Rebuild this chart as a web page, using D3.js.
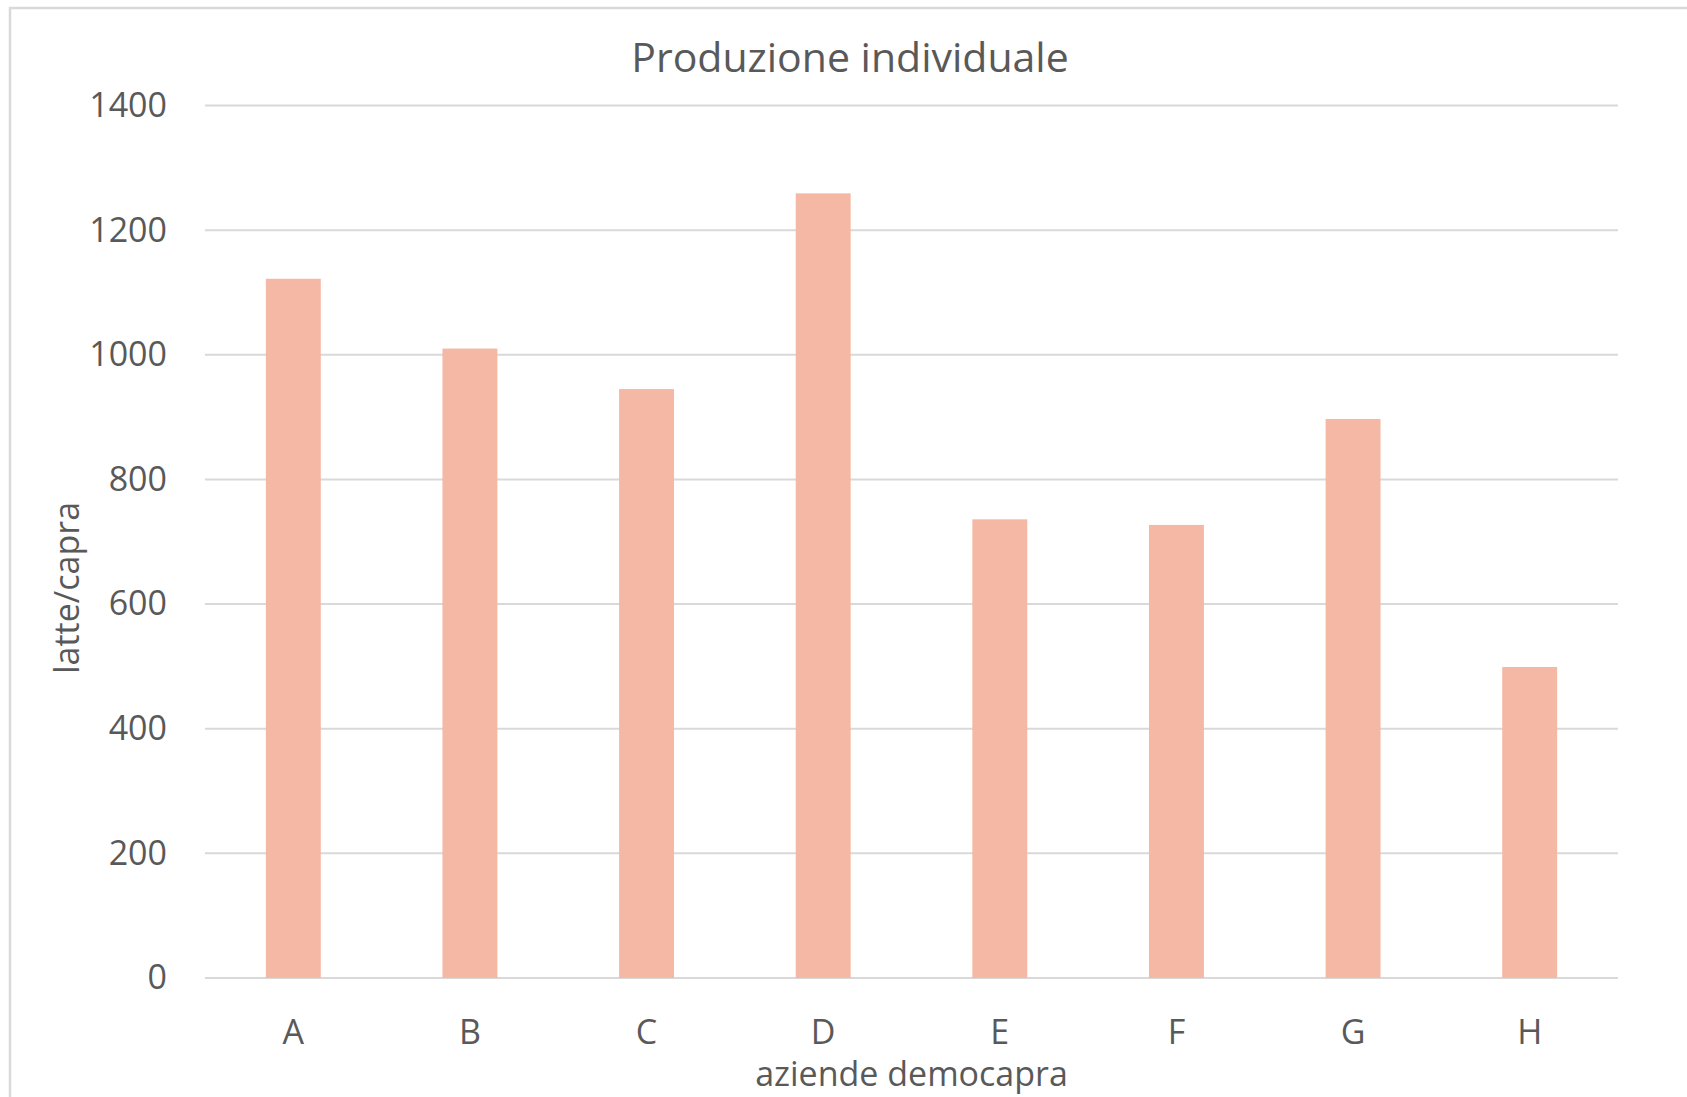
<!DOCTYPE html>
<html>
<head>
<meta charset="utf-8">
<script src="https://cdn.jsdelivr.net/npm/d3@7"></script>
<style>
  html, body { margin: 0; padding: 0; background: #fff; }
  svg text { font-family: "Open Sans", sans-serif; fill: #595959; }
</style>
</head>
<body>
<svg id="bar-chart" width="1687" height="1097"></svg>
<script>
// chart data
const aziende = ["A", "B", "C", "D", "E", "F", "G", "H"];
const latteCapra = [1122, 1010, 945, 1259, 736, 727, 897, 499];
const yTicks = [0, 200, 400, 600, 800, 1000, 1200, 1400];

const data = aziende.map((a, i) => ({ azienda: a, value: latteCapra[i] }));

let svg = d3.select("#bar-chart");

// outer frame of the chart area (runs off the right and bottom edges)
svg.append("rect")
  .attr("x", 10)
  .attr("y", 8)
  .attr("width", 1700)
  .attr("height", 1120)
  .attr("fill", "none")
  .attr("stroke", "#d9d9d9")
  .attr("stroke-width", 2.5);

let plotLeft = 205, plotRight = 1618, plotTop = 105.5, plotBottom = 978;

let xScale = d3.scaleBand()
  .domain(aziende)
  .range([plotLeft, plotRight])
  .paddingInner(0.689)
  .paddingOuter(0.3445);

let yScale = d3.scaleLinear().domain([0, 1400]).range([plotBottom, plotTop]);

// gridlines
svg.append("g")
  .selectAll("line")
  .data(yTicks)
  .enter()
  .append("line")
  .attr("x1", plotLeft)
  .attr("x2", plotRight)
  .attr("y1", d => yScale(d))
  .attr("y2", d => yScale(d))
  .attr("stroke", "#d9d9d9")
  .attr("stroke-width", 2);

// bars
svg.selectAll(".bar")
  .data(data)
  .enter()
  .append("rect")
  .attr("class", "bar")
  .attr("x", d => xScale(d.azienda))
  .attr("y", d => yScale(d.value))
  .attr("width", xScale.bandwidth())
  .attr("height", d => plotBottom - yScale(d.value))
  .attr("fill", "#f4b8a4");

// y axis labels
let yAxis = svg.append("g")
  .attr("transform", "translate(" + plotLeft + ",0)")
  .call(d3.axisLeft(yScale).tickValues(yTicks).tickFormat(d3.format("d")).tickSize(0).tickPadding(38));
yAxis.select(".domain").remove();
yAxis.selectAll("text")
  .attr("font-size", "34px")
  .attr("fill", "#595959")
  .attr("font-family", "Open Sans, sans-serif");

// x axis labels
let xAxis = svg.append("g")
  .attr("transform", "translate(0," + plotBottom + ")")
  .call(d3.axisBottom(xScale).tickSize(0).tickPadding(42));
xAxis.select(".domain").remove();
xAxis.selectAll("text")
  .attr("font-size", "34px")
  .attr("fill", "#595959")
  .attr("font-family", "Open Sans, sans-serif");

// title
svg.append("text")
  .attr("text-anchor", "middle")
  .attr("x", 850)
  .attr("y", 72)
  .attr("font-size", "41px")
  .text("Produzione individuale");

// axis titles
svg.append("text")
  .attr("text-anchor", "middle")
  .attr("x", (plotLeft + plotRight) / 2)
  .attr("y", 1086)
  .attr("font-size", "34px")
  .text("aziende democapra");

svg.append("text")
  .attr("text-anchor", "middle")
  .attr("transform", "translate(79,588) rotate(-90)")
  .attr("font-size", "34px")
  .text("latte/capra");
</script>
</body>
</html>
